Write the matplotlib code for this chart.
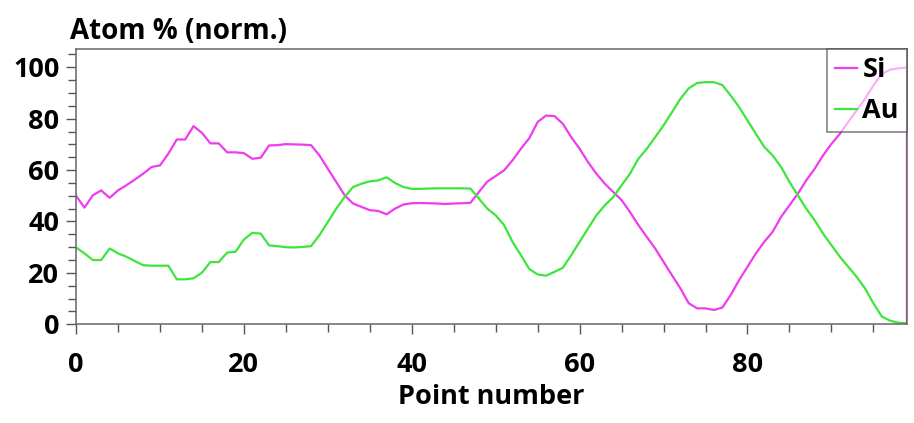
import matplotlib.pyplot as plt
from matplotlib.ticker import MultipleLocator
import numpy as np

# point numbers (last point repeated: Si drops to 0 at the edge)
point = list(range(100)) + [99]

si = [50.0, 45.4, 50.2, 52.1, 49.2, 52.1, 54.1, 56.3, 58.6, 61.2,
      61.8, 66.4, 71.9, 71.9, 77.1, 74.5, 70.4, 70.4, 66.9, 66.9,
      66.6, 64.4, 64.8, 69.6, 69.7, 70.1, 70.0, 69.9, 69.7, 65.7,
      60.5, 55.4, 50.2, 47.0, 45.7, 44.4, 44.1, 42.8, 45.0, 46.6,
      47.1, 47.2, 47.1, 47.0, 46.8, 47.0, 47.1, 47.3, 51.5, 55.5,
      57.7, 59.9, 63.8, 68.3, 72.4, 78.7, 81.2, 81.0, 78.0, 72.8,
      68.3, 63.1, 58.6, 54.7, 51.5, 48.3, 43.7, 38.6, 34.0, 29.5,
      24.3, 19.1, 14.0, 8.2, 6.2, 6.2, 5.6, 6.5, 11.4, 17.2,
      22.4, 27.6, 32.1, 36.0, 41.8, 46.3, 50.8, 56.0, 60.5, 65.7,
      70.2, 74.1, 78.7, 83.2, 87.7, 92.9, 97.4, 99.1, 99.6, 99.9,
      0.0]

au = [29.9, 27.6, 25.0, 25.0, 29.5, 27.6, 26.3, 24.6, 23.0, 22.8,
      22.8, 22.8, 17.5, 17.5, 17.9, 20.1, 24.2, 24.2, 27.9, 28.2,
      33.0, 35.6, 35.3, 30.7, 30.4, 30.0, 29.9, 30.1, 30.4, 34.7,
      39.8, 45.0, 49.5, 53.4, 54.7, 55.6, 56.0, 57.2, 55.0, 53.4,
      52.7, 52.7, 52.8, 52.9, 52.9, 52.9, 52.9, 52.8, 48.9, 45.0,
      42.4, 38.6, 32.1, 26.9, 21.5, 19.4, 18.9, 20.4, 22.0, 26.9,
      32.1, 37.3, 42.4, 46.3, 49.5, 54.1, 58.6, 64.4, 68.3, 72.8,
      77.4, 82.5, 87.7, 91.8, 93.9, 94.2, 94.2, 93.1, 89.0, 84.5,
      79.3, 74.1, 69.0, 65.7, 61.2, 55.4, 50.2, 45.0, 40.5, 35.3,
      30.8, 26.3, 22.4, 18.5, 14.0, 8.2, 3.0, 1.4, 0.6, 0.4,
      0.4]

plt.rcParams['font.family'] = ['Open Sans', 'DejaVu Sans']
plt.rcParams['font.weight'] = 'bold'

fig = plt.figure(figsize=(9.14, 4.23), dpi=100)
ax = fig.add_axes([0.0832, 0.2333, 0.9091, 0.6502])

ax.plot(point, si, color='#ee3cee', lw=1.6, label='Si')
ax.plot(point, au, color='#3ce63c', lw=1.6, label='Au')

ax.set_xlim(0, 99)
ax.set_ylim(0, 107)
ax.xaxis.set_major_locator(MultipleLocator(20))
ax.xaxis.set_minor_locator(MultipleLocator(5))
ax.yaxis.set_major_locator(MultipleLocator(20))
ax.yaxis.set_minor_locator(MultipleLocator(5))
ax.tick_params(which='both', direction='out', color='#555555', width=1.0,
               labelsize=19.5)
ax.tick_params(which='major', length=7)
ax.tick_params(which='minor', length=5.5)
ax.tick_params(axis='x', pad=13)
ax.tick_params(axis='y', pad=5)
for s in ax.spines.values():
    s.set_color('#666666')
    s.set_linewidth(1.1)

ax.set_xlabel('Point number', fontsize=19.5, fontweight='bold', labelpad=4)
fig.text(70/914, 1-39/423, 'Atom % (norm.)', fontsize=20, fontweight='bold',
         ha='left', va='baseline')

leg = ax.legend(loc='upper right', fontsize=19.5, borderaxespad=0,
                fancybox=False, framealpha=0.6, edgecolor='#444444',
                handlelength=0.8, handletextpad=0.2, borderpad=0.3,
                labelspacing=0.55)
leg.get_frame().set_linewidth(1.3)

fig.savefig('out.png', dpi=100)
